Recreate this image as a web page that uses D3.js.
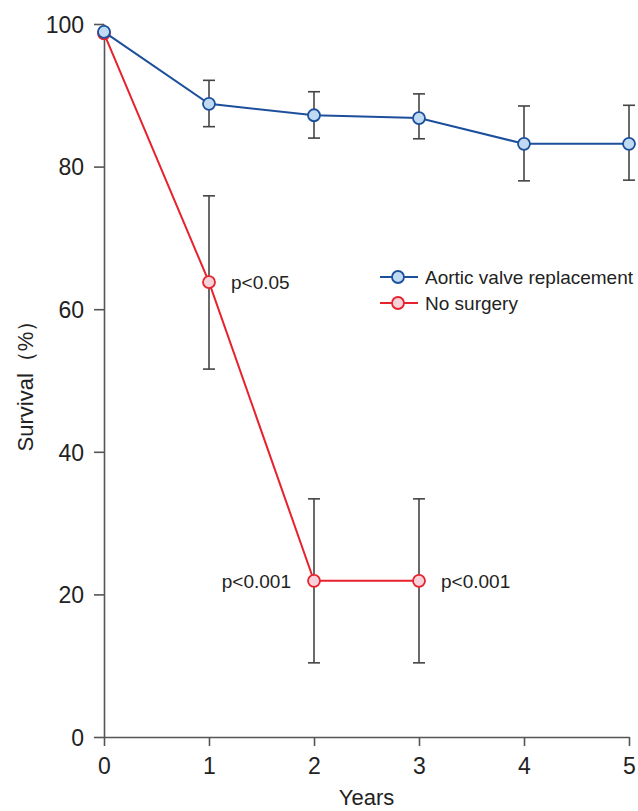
<!DOCTYPE html>
<html>
<head>
<meta charset="utf-8">
<script src="https://cdn.jsdelivr.net/npm/d3@7"></script>
<style>
  body { margin: 0; background: #fff; }
  svg { font-family: "Liberation Sans", Arial, sans-serif; }
</style>
</head>
<body>
<div id="vis"></div>
<script>
const FRAME_WIDTH = 638;
const FRAME_HEIGHT = 811;
const MARGINS = {left: 104, right: 9, top: 24, bottom: 74};

// data
const years = [0, 1, 2, 3, 4, 5];
const avrMean  = [98.9, 88.8, 87.2, 86.8, 83.2, 83.2];
const avrLower = [null, 85.6, 84.0, 83.9, 78.0, 78.1];
const avrUpper = [null, 92.1, 90.5, 90.2, 88.5, 88.6];

const noSurgYears = [0, 1, 2, 3];
const noSurgMean  = [98.7, 63.8, 21.9, 21.9];
const noSurgLower = [null, 51.6, 10.4, 10.4];
const noSurgUpper = [null, 75.9, 33.4, 33.4];
const pValues     = [null, "p<0.05", "p<0.001", "p<0.001"];

const xTicks = [0, 1, 2, 3, 4, 5];
const yTicks = [0, 20, 40, 60, 80, 100];
const seriesNames = ["Aortic valve replacement", "No surgery"];

const BLUE = "#1c4f9c", BLUE_FILL = "#bfdaf2";
const RED = "#e8222c", RED_FILL = "#f7d2da";
const BAR = "#444";

const VIS_WIDTH = FRAME_WIDTH - MARGINS.left - MARGINS.right;
const VIS_HEIGHT = FRAME_HEIGHT - MARGINS.top - MARGINS.bottom;

const svg = d3.select("#vis").append("svg")
  .attr("width", FRAME_WIDTH)
  .attr("height", FRAME_HEIGHT);

const X_SCALE = d3.scaleLinear().domain([0, 5]).range([MARGINS.left, MARGINS.left + VIS_WIDTH]);
const Y_SCALE = d3.scaleLinear().domain([0, 100]).range([MARGINS.top + VIS_HEIGHT, MARGINS.top]);

// axes
const xAxis = svg.append("g")
  .attr("transform", "translate(0," + (MARGINS.top + VIS_HEIGHT) + ")")
  .call(d3.axisBottom(X_SCALE).tickValues(xTicks).tickFormat(d3.format("d"))
    .tickSize(9).tickPadding(12).tickSizeOuter(0));
const yAxis = svg.append("g")
  .attr("transform", "translate(" + MARGINS.left + ",0)")
  .call(d3.axisLeft(Y_SCALE).tickValues(yTicks).tickSize(10).tickPadding(10).tickSizeOuter(0));

[xAxis, yAxis].forEach(g => {
  g.select(".domain").attr("stroke", "#555").attr("stroke-width", 1.6);
  g.selectAll(".tick line").attr("stroke", "#555").attr("stroke-width", 1.6);
  g.selectAll(".tick text").attr("font-size", 23).attr("fill", "#222")
    .attr("font-family", "Liberation Sans, Arial, sans-serif");
});
yAxis.selectAll(".tick text").attr("dy", "0.36em");

svg.append("text")
  .attr("x", X_SCALE(2.5)).attr("y", 805)
  .attr("text-anchor", "middle").attr("font-size", 22).attr("fill", "#222")
  .text("Years");
svg.append("text")
  .attr("transform", "translate(33," + Y_SCALE(50) + ") rotate(-90)")
  .attr("text-anchor", "middle").attr("font-size", 22).attr("fill", "#222")
  .text("Survival（%）");

// error bars
function errorBars(xs, lo, hi) {
  const d = xs.map((x, i) => ({x: x, lo: lo[i], hi: hi[i]})).filter(e => e.lo != null);
  const g = svg.append("g").attr("stroke", BAR).attr("stroke-width", 1.6);
  g.selectAll(".v").data(d).enter().append("line")
    .attr("x1", e => X_SCALE(e.x)).attr("x2", e => X_SCALE(e.x))
    .attr("y1", e => Y_SCALE(e.lo)).attr("y2", e => Y_SCALE(e.hi));
  ["lo", "hi"].forEach(k => {
    g.selectAll(".c" + k).data(d).enter().append("line")
      .attr("x1", e => X_SCALE(e.x) - 6).attr("x2", e => X_SCALE(e.x) + 6)
      .attr("y1", e => Y_SCALE(e[k])).attr("y2", e => Y_SCALE(e[k]));
  });
}
errorBars(years, avrLower, avrUpper);
errorBars(noSurgYears, noSurgLower, noSurgUpper);

function series(xs, ys, stroke, fill) {
  const pts = xs.map((x, i) => [x, ys[i]]);
  svg.append("path").datum(pts)
    .attr("fill", "none").attr("stroke", stroke).attr("stroke-width", 2)
    .attr("d", d3.line().x(d => X_SCALE(d[0])).y(d => Y_SCALE(d[1])));
  svg.append("g").selectAll("circle").data(pts).enter().append("circle")
    .attr("cx", d => X_SCALE(d[0])).attr("cy", d => Y_SCALE(d[1]))
    .attr("r", 6).attr("fill", fill).attr("stroke", stroke).attr("stroke-width", 1.8);
}
series(noSurgYears, noSurgMean, RED, RED_FILL);
series(years, avrMean, BLUE, BLUE_FILL);

// p-value labels
svg.append("g").selectAll("text")
  .data(noSurgYears.map((x, i) => ({x: x, y: noSurgMean[i], t: pValues[i], left: x === 2})).filter(d => d.t))
  .enter().append("text")
    .attr("x", d => X_SCALE(d.x) + (d.left ? -23 : 22))
    .attr("y", d => Y_SCALE(d.y))
    .attr("dy", "0.36em")
    .attr("text-anchor", d => d.left ? "end" : "start")
    .attr("font-size", 19).attr("fill", "#222")
    .text(d => d.t);

// legend
const legend = svg.append("g").attr("transform", "translate(380,277)");
[[BLUE, BLUE_FILL], [RED, RED_FILL]].forEach((c, i) => {
  const row = legend.append("g").attr("transform", "translate(0," + (i * 26) + ")");
  row.append("line").attr("x1", 0).attr("x2", 38).attr("stroke", c[0]).attr("stroke-width", 2);
  row.append("circle").attr("cx", 18).attr("r", 6).attr("fill", c[1]).attr("stroke", c[0]).attr("stroke-width", 1.8);
  row.append("text").attr("x", 45).attr("dy", "0.36em").attr("font-size", 19).attr("fill", "#222")
    .text(seriesNames[i]);
});
</script>
</body>
</html>
